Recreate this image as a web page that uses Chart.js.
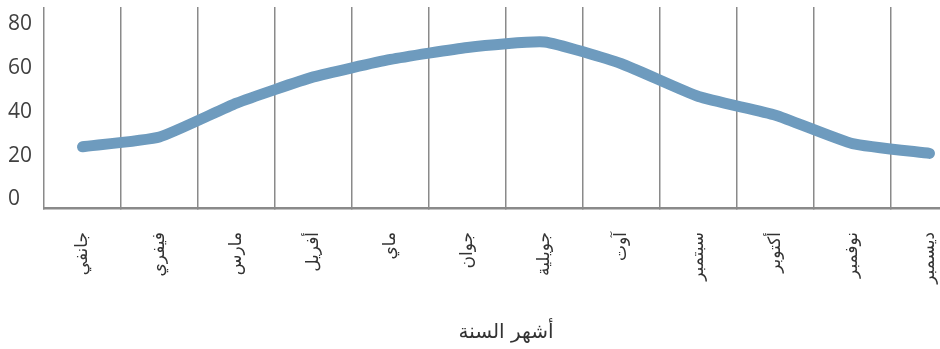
<!DOCTYPE html>
<html lang="ar">
<head>
<meta charset="utf-8">
<title>أشهر السنة</title>
<script src="https://cdn.jsdelivr.net/npm/chart.js@4/dist/chart.umd.min.js"></script>
<style>
  html, body { margin: 0; padding: 0; background: #fff; overflow: hidden; }
  #wrap { width: 975px; height: 349px; }
</style>
</head>
<body>
<div id="wrap"><canvas id="monthChart" width="975" height="349"></canvas></div>
<script>
// Các tháng (nhãn trục X)
const months = ["جانفي", "فيفري", "مارس", "أفريل", "ماي", "جوان", "جويلية", "آوت", "سبتمبر", "أكتوبر", "نوفمبر", "ديسمبر"];
// Giá trị
const values = [24, 28.5, 44, 56, 64, 69.5, 72, 62, 47, 38.5, 25.5, 21];
// Nhãn trục Y
const yTicks = [0, 20, 40, 60, 80];
const xTitle = "أشهر السنة";

const ctx = document.getElementById("monthChart").getContext("2d");

new Chart(ctx, {
  type: "line",
  data: {
    labels: months,
    datasets: [{
      data: values,
      borderColor: "#6e9bbe",
      borderWidth: 11,
      borderCapStyle: "round",
      borderJoinStyle: "round",
      pointRadius: 0,
      tension: 0.15,
      fill: false
    }]
  },
  options: {
    responsive: false,
    animation: false,
    layout: { padding: { left: 8, right: 7, top: 7, bottom: 2 } },
    plugins: { legend: { display: false }, tooltip: { enabled: false } },
    scales: {
      x: {
        offset: true,
        grid: { offset: true, color: "#8a8a8a", lineWidth: 1.5, tickLength: 0 },
        border: { color: "#8a8a8a", width: 2.5 },
        ticks: {
          minRotation: 90,
          maxRotation: 90,
          padding: 24,
          color: "#333",
          font: { family: "DejaVu Sans", size: 17 }
        },
        title: {
          display: true,
          text: xTitle,
          color: "#333",
          font: { family: "DejaVu Sans", size: 20 },
          padding: { top: 0, bottom: 2 }
        },
        afterFit: scale => {
          scale.height = 349 - 208 - 2;
          scale.paddingLeft = 0;
          scale.paddingRight = 0;
        }
      },
      y: {
        min: -4,
        max: 88,
        grid: { display: false },
        border: { display: false },
        afterBuildTicks: scale => { scale.ticks = yTicks.map(v => ({ value: v })); },
        ticks: {
          crossAlign: "far",
          padding: 0,
          color: "#404040",
          font: { family: "Open Sans", size: 21 }
        },
        afterFit: scale => {
          scale.width = 36;
          scale.paddingTop = 0; // nhãn 80 nằm trong vùng biểu đồ
          scale.paddingBottom = 0;
        }
      }
    }
  }
});
</script>
</body>
</html>
